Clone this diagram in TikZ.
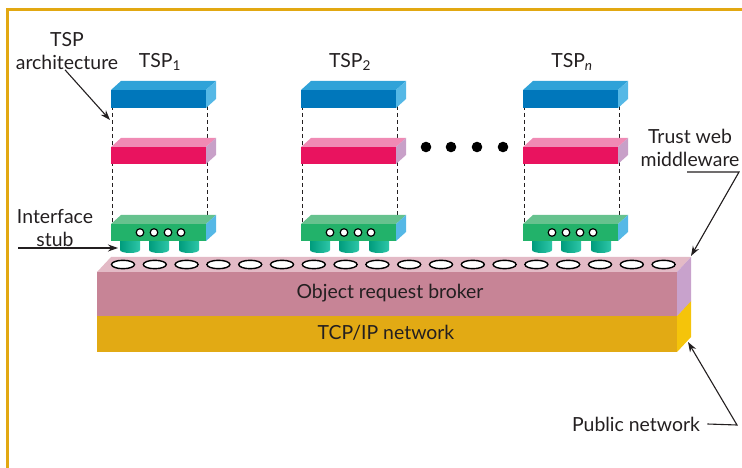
\documentclass[tikz,border=0pt]{standalone}
\usepackage{fontspec}
\setmainfont{Lato}
\usetikzlibrary{arrows.meta,positioning}
\definecolor{gold}{HTML}{E2A812}
\definecolor{ink}{HTML}{231F20}
\definecolor{blueF}{HTML}{0077BB}
\definecolor{blueT}{HTML}{2FA2D8}
\definecolor{blueS}{HTML}{55B8E6}
\definecolor{pinkF}{HTML}{E9135F}
\definecolor{pinkT}{HTML}{F08AB4}
\definecolor{pinkS}{HTML}{C8A0C8}
\definecolor{greenF}{HTML}{22B26A}
\definecolor{greenT}{HTML}{66C28E}
\definecolor{plugL}{HTML}{009C7C}
\definecolor{plugR}{HTML}{2EC6A8}
\definecolor{orbF}{HTML}{C78496}
\definecolor{orbT}{HTML}{E3BAC6}
\definecolor{orbS}{HTML}{C8A2CC}
\definecolor{tcpF}{HTML}{E2AA14}
\definecolor{tcpS}{HTML}{F5C40A}
% slab: x, y, width, height, depth x, depth y, front, top, side
\newcommand{\Slab}[9]{%
  \fill[#7] (#1,#2) rectangle ({#1+#3},{#2+#4});
  \fill[#8] (#1,#2) -- ({#1+#5},{#2-#6}) -- ({#1+#3+#5},{#2-#6}) -- ({#1+#3},#2) -- cycle;
  \fill[#9] ({#1+#3},#2) -- ({#1+#3+#5},{#2-#6}) -- ({#1+#3+#5},{#2+#4-#6}) -- ({#1+#3},{#2+#4}) -- cycle;
}
% plug under the stub: left x
\newcommand{\Plug}[1]{%
  \shade[left color=plugL,right color=plugR] (#1,241) -- (#1,250)
    arc[start angle=180,end angle=0,x radius=10,y radius=3] -- ({#1+20},241) -- cycle;
}

\begin{document}
\begin{tikzpicture}[% pixel grid, y runs downwards
      x=1bp, y=-1bp,
      every node/.style={
        text=ink,
        align=center,     % so that "\\" breaks the line
        font=\fontsize{19.5}{22.5}\selectfont
      },
      callout/.style={draw=ink,line width=1.1bp,-{Stealth[length=10bp,width=7bp]}},
      guide/.style={draw=ink,line width=0.9bp,dash pattern=on 4bp off 3bp},
      hole/.style={draw=black,line width=1.4bp,fill=white}
    ]
    \useasboundingbox (0,0) rectangle (742,468);
    \draw[gold,line width=3bp] (7,468) -- (7,9.5) -- (742,9.5);

    % the TSP stacks
    \foreach \sx in {111,301,523}{
      \draw[guide] (\sx+1,92) -- (\sx+1,223);
      \draw[guide] (\sx+96,92) -- (\sx+96,223);
      \Slab{\sx}{90}{95}{18}{10}{9}{blueF}{blueT}{blueS}
      \Slab{\sx}{147}{95}{17}{10}{9}{pinkF}{pinkT}{pinkS}
      \Plug{\sx+9}
      \Plug{\sx+38}
      \Plug{\sx+68}
      \Slab{\sx}{224}{95}{17}{10}{9}{greenF}{greenT}{blueS}
      \foreach \hx in {29,43,57,70}
        \draw[hole,line width=1.2bp] (\sx+\hx,232.5) circle[radius=3.8];
    }
    \node (T1) at (160,62) {TSP\textsubscript{1}};
    \node (T2) at (350,62) {TSP\textsubscript{2}};
    \node (Tn) at (572,62) {TSP\textsubscript{\itshape n}};

    % more stacks
    \foreach \dx in {426,451,477,503}
      \fill[black] (\dx,147) circle[radius=5.3];

    % object request broker on the network
    \Slab{97}{316}{580}{36}{14}{15}{tcpF}{tcpF}{tcpS}
    \Slab{97}{272}{580}{44}{14}{15}{orbF}{orbT}{orbS}
    \foreach \i in {0,...,17}
      \draw[hole] (123+31.8*\i,264.5) ellipse[x radius=11.5,y radius=4.2];
    \node (orb) at (390,293) {Object request broker};
    \node (tcp) at (386,333) {TCP/IP network};

    % labels
    \node (arch) at (67,51) {TSP\\architecture};
    \coordinate (archtip) at (110,120);
    \draw[callout] ([xshift=-2bp,yshift=3bp]arch.south) -- (archtip);

    \node (stub) at (55,228) {Interface\\stub};
    \coordinate (stubtail) at (18,248);
    \coordinate (stubtip) at (118,248);
    \draw[callout] (stubtail) -- (stubtip);

    \node (mid) at (690,148) {Trust web\\middleware};
    \coordinate (midtail) at (687,172);
    \coordinate (midtip) at (691,256);
    \draw[callout] (midtail) -- (739,172) -- (midtip);

    \node (pub) at (636,424) {Public network};
    \coordinate (pubtip) at (688,342);
    \draw[callout] ([xshift=4bp]pub.east) -- (737,425) -- (pubtip);
\end{tikzpicture}
\end{document}
